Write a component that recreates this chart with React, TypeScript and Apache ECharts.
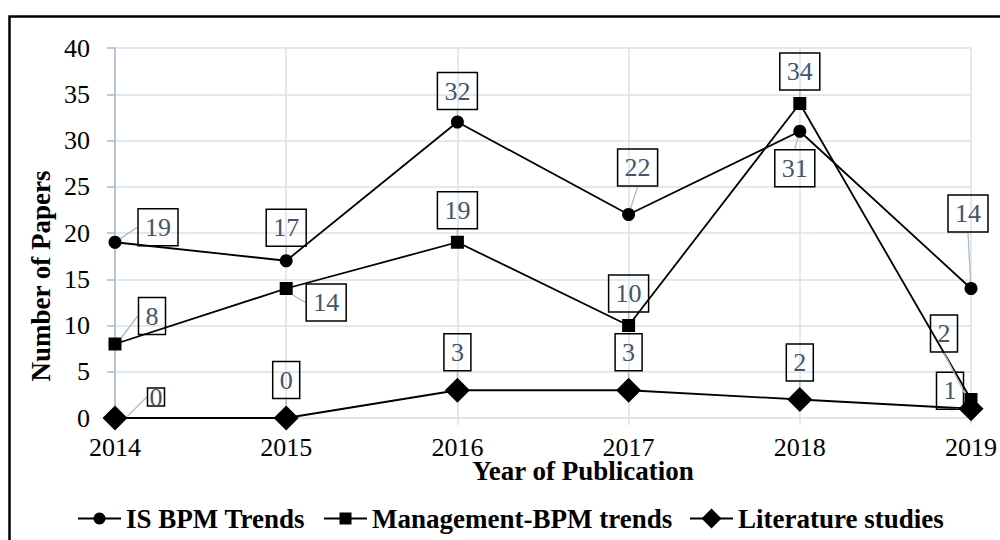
import React, { useEffect, useRef } from "react";
import * as echarts from "echarts";

const years = ["2014", "2015", "2016", "2017", "2018", "2019"];
const isBpm = [19, 17, 32, 22, 31, 14];
const mgmtBpm = [8, 14, 19, 10, 34, 2];
const literature = [0, 0, 3, 3, 2, 1];
const seriesNames = ["IS BPM Trends", "Management-BPM trends", "Literature studies"];

// label box offsets (centre of box relative to marker), layout only
const labelOffsets = [
  [[43, -15], [0, -33], [0, -31], [9, -47], [-5, 37], [-3, -75]],
  [[37, -28], [40, 14], [0, -32], [0, -32], [0, -32], [-27, -66]],
  [[41, -21], [0, -38], [0, -38], [0, -38], [0, -37], [-21, -18]],
];

const FONT = "Liberation Serif, Times New Roman, Times, serif";
const GRID = "#dae2ec";
const AXIS = "#a9b9cb";

export default function App() {
  const ref = useRef<HTMLDivElement>(null);
  useEffect(() => {
    const chart = echarts.init(ref.current!, null, { renderer: "svg" });
    const labelBase = {
      show: true,
      position: "inside",
      fontFamily: FONT,
      fontSize: 26,
      lineHeight: 27,
      color: "#44546a",
      borderColor: "#000",
      borderWidth: 1.5,
      padding: [5, 7],
    };
    const mk = (name: string, data: number[], symbol: string, size: number, si: number) => ({
      name,
      type: "line",
      data: data.map((v, i) =>
        si === 2 && i === 0
          ? { value: v, label: { lineHeight: 18, padding: [0, 2] } }
          : v
      ),
      symbol,
      symbolSize: size,
      showSymbol: true,
      lineStyle: { color: "#000", width: 1.8 },
      itemStyle: { color: "#000" },
      label: labelBase,
      labelLine: { show: true, lineStyle: { color: AXIS, width: 1.3 } },
      labelLayout: (p: any) => {
        const o = labelOffsets[si][p.dataIndex];
        return { dx: o[0], dy: o[1] };
      },
      z: 3 - si,
    });
    const legendBase = {
      top: 500,
      itemWidth: 43,
      itemGap: 5,
      textStyle: { fontFamily: FONT, fontSize: 27, fontWeight: "bold", color: "#000" },
      selectedMode: false,
    };
    chart.setOption({
      animation: false,
      backgroundColor: "#fff",
      textStyle: { fontFamily: FONT },
      grid: { left: 115, right: 28, top: 48, bottom: 122 },
      legend: [
        { ...legendBase, left: 72, itemHeight: 15, data: [seriesNames[0]] },
        { ...legendBase, left: 318, itemHeight: 15, data: [seriesNames[1]] },
        { ...legendBase, left: 684, itemHeight: 25, data: [seriesNames[2]] },
      ],
      xAxis: {
        type: "category",
        data: years,
        boundaryGap: false,
        axisLine: { show: true, lineStyle: { color: GRID, width: 1.5 } },
        axisTick: { show: true, length: 7, lineStyle: { color: GRID, width: 1.5 } },
        splitLine: { show: true, lineStyle: { color: GRID, width: 1.5 } },
        axisLabel: { fontFamily: FONT, fontSize: 26, color: "#000", margin: 16 },
      },
      yAxis: {
        type: "value",
        min: 0,
        max: 40,
        interval: 5,
        axisLine: { show: true, lineStyle: { color: AXIS, width: 1.5 } },
        axisTick: { show: true, length: 8, lineStyle: { color: AXIS, width: 1.5 } },
        splitLine: { show: true, lineStyle: { color: GRID, width: 1.5 } },
        axisLabel: { fontFamily: FONT, fontSize: 26, color: "#000", margin: 25 },
      },
      graphic: [
        {
          type: "rect",
          shape: { x: 9.5, y: 16.5, width: 1100, height: 700 },
          style: { fill: "none", stroke: "#000", lineWidth: 2.5 },
          silent: true,
        },
        {
          type: "text",
          x: 41,
          y: 276,
          rotation: Math.PI / 2,
          style: {
            text: "Number of Papers",
            fontFamily: FONT,
            fontSize: 27,
            fontWeight: "bold",
            fill: "#000",
            align: "center",
            verticalAlign: "middle",
          },
        },
        {
          type: "text",
          x: 583,
          y: 471,
          style: {
            text: "Year of Publication",
            fontFamily: FONT,
            fontSize: 27,
            fontWeight: "bold",
            fill: "#000",
            align: "center",
            verticalAlign: "middle",
          },
        },
      ],
      series: [
        mk(seriesNames[0], isBpm, "circle", 13, 0),
        mk(seriesNames[1], mgmtBpm, "rect", 13, 1),
        mk(seriesNames[2], literature, "diamond", 25, 2),
      ],
    });
    return () => chart.dispose();
  }, []);
  return <div ref={ref} style={{ width: 1000, height: 540, position: "absolute", left: 0, top: 0 }} />;
}
